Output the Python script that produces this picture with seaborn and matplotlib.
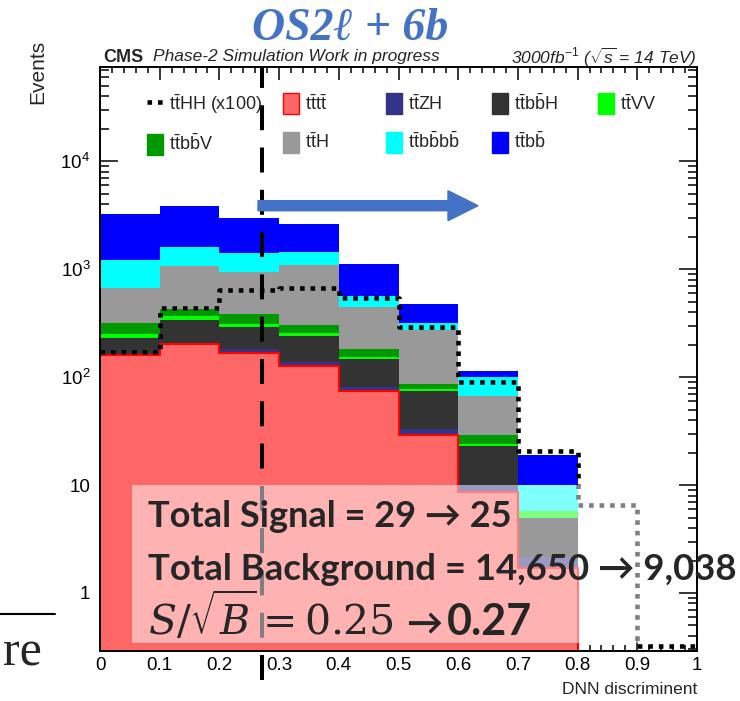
import numpy as np
import pandas as pd
import matplotlib.pyplot as plt
import seaborn as sns
from matplotlib.patches import Patch, Rectangle, FancyArrow
from matplotlib.lines import Line2D
from matplotlib.ticker import MultipleLocator, LogLocator, FuncFormatter, NullFormatter

# ROOT-like style
sns.set_style('ticks')
plt.rcParams['font.family'] = ['Liberation Sans', 'DejaVu Sans']
plt.rcParams['mathtext.fontset'] = 'custom'
plt.rcParams['mathtext.rm'] = 'Liberation Sans'
plt.rcParams['mathtext.it'] = 'Liberation Sans:italic'
plt.rcParams['mathtext.bf'] = 'Liberation Sans:bold'

# DNN discriminant binning (list, seaborn compares bins with "auto")
bin_edges = [round(0.1 * i, 1) for i in range(11)]
bin_centers = [round(0.1 * i + 0.05, 2) for i in range(10)]

# expected events per bin
tttt = [161, 205, 169, 127, 75, 29, 8.6, 1.7, 0, 0]
ttZH = [2, 3, 12, 10, 7, 4, 1.4, 0.46, 0, 0]
ttbbH = [70, 129, 111, 103, 65, 41, 13, 2.8, 0, 0]
ttVV = [17, 32, 21, 16, 8, 3, 1, 0.84, 0, 0]
ttbbV = [70, 56, 70, 49, 29, 10, 5, 0, 0, 0]
ttH = [345, 645, 563, 802, 263, 187, 38, 0, 0, 0]
ttbbbb = [545, 530, 469, 338, 118, 42, 33, 4.2, 0, 0]
ttbb = [2040, 2230, 1605, 1185, 555, 157, 14, 9.2, 0, 0]
ttHH_x100 = [172, 440, 637, 673, 544, 292, 91, 20.6, 6.5, 0.32]

# seaborn stacks the first hue level on top
stack_order = ['ttbb', 'ttbbbb', 'ttH', 'ttbbV', 'ttVV', 'ttbbH', 'ttZH', 'tttt']
yields = {'ttbb': ttbb, 'ttbbbb': ttbbbb, 'ttH': ttH, 'ttbbV': ttbbV,
          'ttVV': ttVV, 'ttbbH': ttbbH, 'ttZH': ttZH, 'tttt': tttt}
colors = {'ttbb': '#0000FF', 'ttbbbb': '#00FFFF', 'ttH': '#999999', 'ttbbV': '#009900',
          'ttVV': '#00FF00', 'ttbbH': '#333333', 'ttZH': '#333388', 'tttt': '#FF6666'}

df = pd.concat([pd.DataFrame({'dnn': bin_centers, 'w': yields[p], 'proc': p})
                for p in stack_order], ignore_index=True)

fig = plt.figure(figsize=(7.4, 7.01), dpi=100)
ax = fig.add_axes([100 / 740, 50 / 701, 597 / 740, 584 / 701])

sns.histplot(data=df, x='dnn', weights='w', hue='proc', hue_order=stack_order,
             palette=colors, bins=bin_edges, multiple='stack', element='step',
             alpha=1, linewidth=0, legend=False, ax=ax)
# red outline of tttt
sns.histplot(x=bin_centers, weights=tttt, bins=bin_edges, element='step', fill=False,
             color='#FF0000', linewidth=1.5, ax=ax)
# signal x100, dotted
sns.histplot(x=bin_centers, weights=ttHH_x100, bins=bin_edges, element='step', fill=False,
             color='black', linewidth=3.3, linestyle=(0, (1, 1.3)), ax=ax)

ax.set_yscale('log')
ax.set_xlim(0, 1)
ax.set_ylim(0.29, 7.5e4)
ax.set_xlabel('')
ax.set_ylabel('')

# axes / ticks
for s in ax.spines.values():
    s.set_visible(True)
    s.set_linewidth(1.4)
    s.set_color('black')
ax.xaxis.set_major_locator(MultipleLocator(0.1))
ax.xaxis.set_minor_locator(MultipleLocator(0.02))
ax.xaxis.set_major_formatter(FuncFormatter(lambda v, p: f'{v:g}'))
ax.yaxis.set_major_locator(LogLocator(base=10, numticks=10))
ax.yaxis.set_minor_locator(LogLocator(base=10, subs=np.arange(2, 10), numticks=20))
ax.yaxis.set_minor_formatter(NullFormatter())
ax.yaxis.set_major_formatter(FuncFormatter(
    lambda v, p: '1' if v == 1 else ('10' if v == 10 else r'$10^{%d}$' % round(np.log10(v)))))
ax.tick_params(axis='both', which='both', direction='in', top=True, right=True,
               colors='black', labelsize=13.5, width=1.1)
ax.tick_params(axis='x', which='major', length=9, pad=4)
ax.tick_params(axis='x', which='minor', length=4.5)
ax.tick_params(axis='y', which='major', length=13, pad=7)
ax.tick_params(axis='y', which='minor', length=6.5)

# cut line and arrow
ax.axvline(0.271, ymin=-0.05, ymax=1.0, clip_on=False, color='black', lw=2.9,
           dashes=(6.2, 4.3), zorder=4)
ax.add_patch(FancyArrow(258 / 740, 1 - 205.7 / 701, 220 / 740, 0, width=10 / 701,
                        head_width=30 / 701, head_length=30 / 740, length_includes_head=True,
                        color='#4472C4', transform=fig.transFigure, clip_on=False, zorder=8))

# translucent summary box
ax.add_patch(Rectangle((0.054, 0.345), 0.876, 10 - 0.345, facecolor='white', alpha=0.5,
                       edgecolor='none', zorder=5))
box_font = ['Lato', 'DejaVu Sans']
fig.text(148 / 740, 1 - 527 / 701, 'Total Signal = 29 → 25', family=box_font,
         weight='bold', size=26, va='baseline', zorder=9)
fig.text(148 / 740, 1 - 580 / 701, 'Total Background = 14,650 → 9,038', family=box_font,
         weight='bold', size=26.3, va='baseline', zorder=9)
fig.text(148 / 740, 1 - 635 / 701, r'$S/\sqrt{B} = \mathit{0.25}$',
         math_fontfamily='dejavuserif', size=29.5, va='baseline', zorder=9)
fig.text(406 / 740, 1 - 635 / 701, '→', family=box_font, weight='bold', size=26,
         va='baseline', zorder=9)
fig.text(447 / 740, 1 - 635 / 701, '0.27', family=box_font, weight='bold', size=31,
         va='baseline', zorder=9)

# legend, one block per column like ROOT's TLegend
legend_handles = [
    [(Line2D([], [], color='black', lw=3.3, ls=(0, (1, 1.3))), r'$\mathrm{t\bar{t}HH}$ (x100)'),
     (Patch(fc=colors['ttbbV'], ec=colors['ttbbV']), r'$\mathrm{t\bar{t}b\bar{b}V}$')],
    [(Patch(fc=colors['tttt'], ec='#FF0000'), r'$\mathrm{t\bar{t}t\bar{t}}$'),
     (Patch(fc=colors['ttH'], ec=colors['ttH']), r'$\mathrm{t\bar{t}H}$')],
    [(Patch(fc=colors['ttZH'], ec=colors['ttZH']), r'$\mathrm{t\bar{t}ZH}$'),
     (Patch(fc=colors['ttbbbb'], ec=colors['ttbbbb']), r'$\mathrm{t\bar{t}b\bar{b}b\bar{b}}$')],
    [(Patch(fc=colors['ttbbH'], ec=colors['ttbbH']), r'$\mathrm{t\bar{t}b\bar{b}H}$'),
     (Patch(fc=colors['ttbb'], ec=colors['ttbb']), r'$\mathrm{t\bar{t}b\bar{b}}$')],
    [(Patch(fc=colors['ttVV'], ec=colors['ttVV']), r'$\mathrm{t\bar{t}VV}$')],
]
col_x = [147, 283, 386, 492, 598]
legs = []
for x0, entries in zip(col_x, legend_handles):
    h, l = zip(*entries)
    leg = ax.legend(h, l, loc='upper left', bbox_to_anchor=(x0 / 740, 1 - 93 / 701),
                    bbox_transform=fig.transFigure, frameon=False, borderpad=0,
                    borderaxespad=0, fontsize=13, handlelength=0.9, handleheight=1.45,
                    handletextpad=0.3, labelspacing=0.95)
    legs.append(leg)
for leg in legs[:-1]:
    ax.add_artist(leg)

# header texts
fig.text(103 / 740, 1 - 57 / 701, 'CMS', weight='bold', size=13, va='center')
fig.text(153 / 740, 1 - 57 / 701, 'Phase-2 Simulation Work in progress', style='italic',
         size=12.5, va='center')
fig.text(697 / 740, 1 - 57 / 701, r'3000fb$^{\mathit{-1}}$ ($\sqrt{\mathit{s}}$ = 14 TeV)',
         style='italic', size=12.5, ha='right', va='center')
fig.text(350 / 740, 1 - 29 / 701, 'OS2ℓ + 6b', family=['Liberation Serif', 'DejaVu Serif'],
         weight='bold', style='italic', size=33, color='#4472C4', ha='center', va='center')

# axis titles
fig.text(38 / 740, 1 - 40 / 701, 'Events', rotation=90, size=15, ha='center', va='top')
fig.text(697 / 740, 1 - 690 / 701, 'DNN discriminent', size=12.5, ha='right', va='center')

# slide remnant at the lower left
fig.add_artist(Line2D([0, 55 / 740], [1 - 614 / 701] * 2, color='black', lw=1.5))
fig.text(3 / 740, 1 - 666 / 701, 're', family='Liberation Serif', size=36, va='baseline')

fig.savefig('out.png', dpi=100)
